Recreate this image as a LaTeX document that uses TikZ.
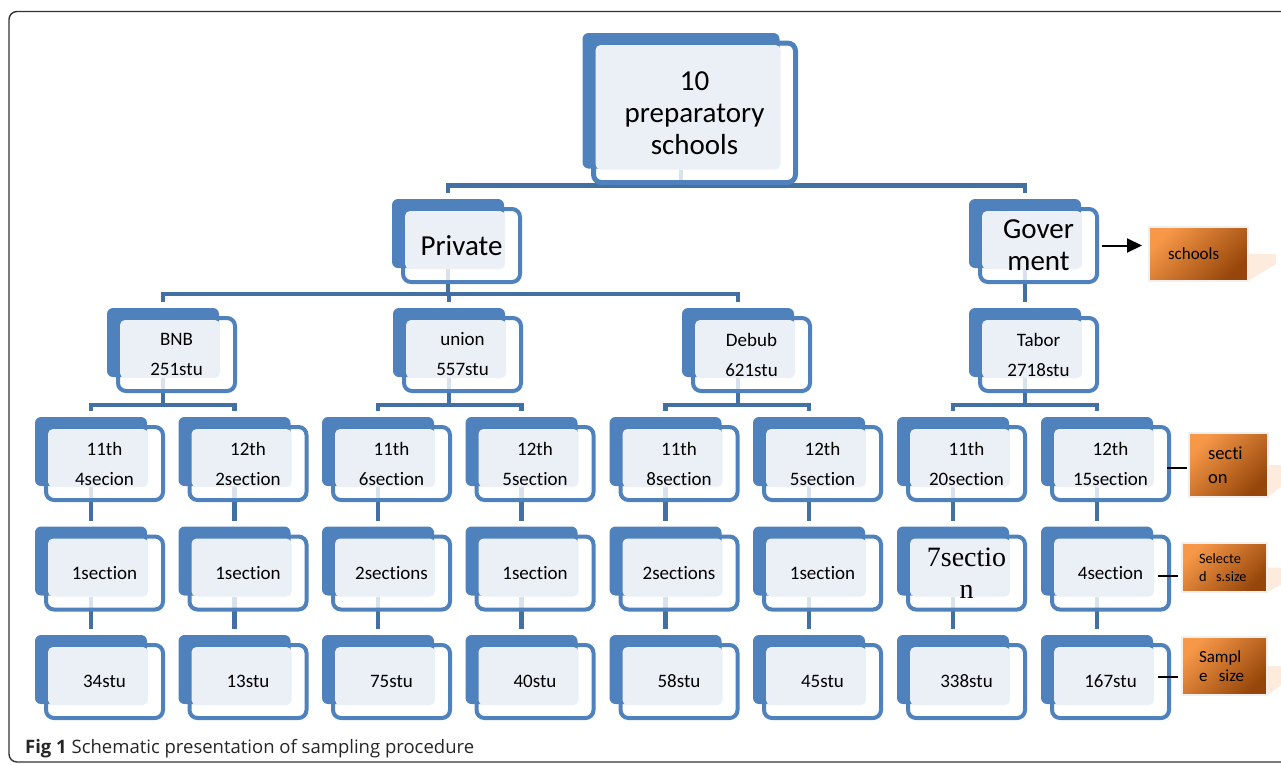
\documentclass[tikz,border=0pt]{standalone}
\usepackage{fontspec}
\setmainfont{Carlito}[Ligatures=NoCommon,Contextuals=NoAlternate]
\newfontfamily\timesfont{Liberation Serif}
\newfontfamily\captionfont{Open Sans}
\usetikzlibrary{calc,arrows.meta}
\definecolor{boxblue}{RGB}{79,129,189}
\definecolor{linkblue}{RGB}{66,112,162}
\definecolor{boxlight}{RGB}{235,240,247}
\definecolor{legtop}{RGB}{247,152,72}
\definecolor{legbot}{RGB}{150,70,10}
\definecolor{legshade}{RGB}{253,236,222}
\pgfdeclarelayer{links}
\pgfdeclarelayer{boxes}
\pgfsetlayers{links,boxes,main}

\begin{document}
\begin{tikzpicture}[x=1pt,y=-1pt,
  unit/.style={rectangle,inner sep=0pt,outer sep=0pt,minimum width=117pt,minimum height=73pt,align=center,font=\fontsize{19}{30}\selectfont},
  big/.style={unit,font=\fontsize{29}{32}\selectfont},
  link/.style={draw=linkblue,line width=4.5pt},
  legend/.style={rectangle,top color=legtop,bottom color=legbot,shading angle=45,draw=black!6,line width=2pt,align=left,inner ysep=0pt,outer sep=0pt},
  tick/.style={draw=black,line width=2pt}]
\useasboundingbox (0,0) rectangle (1281,764);
\draw[black!80,line width=1.4pt,rounded corners=8pt] (9,11.5) rectangle (1300,762);

\node (top) at (694.5,112.75) [big,minimum width=202pt,minimum height=139.5pt] {10\\preparatory\\schools};
\node (priv) at (461.5,245.5) [big] {Private};
\node (gov) at (1038.5,245.5) [big] {Gover\\ment};
\node (bnb) at (176.5,354.5) [unit] {BNB\\251stu};
\node (uni) at (462.5,354.5) [unit] {union\\557stu};
\node (deb) at (751.5,354.5) [unit] {Debub\\621stu};
\node (tab) at (1038.5,354.5) [unit] {Tabor\\2718stu};
\foreach \i/\x/\t in {1/104.5/{11th\\4secion},2/248/{12th\\2section},3/391.5/{11th\\6section},4/535/{12th\\5section},5/679/{11th\\8section},6/822.5/{12th\\5section},7/966.5/{11th\\20section},8/1110.5/{12th\\15section}}
  \node (g\i) at (\x,463.5) [unit] {\t};
\foreach \i/\x/\t in {1/104.5/1section,2/248/1section,3/391.5/2sections,4/535/1section,5/679/2sections,6/822.5/1section,8/1110.5/4section}
  \node (s\i) at (\x,573) [unit] {\t};
\node (s7) at (966.5,573) [unit,font=\timesfont\fontsize{28}{32}\selectfont] {7sectio\\n};
\foreach \i/\x/\t in {1/104.5/34stu,2/248/13stu,3/391.5/75stu,4/535/40stu,5/679/58stu,6/822.5/45stu,7/966.5/338stu,8/1110.5/167stu}
  \node (n\i) at (\x,681.5) [unit] {\t};

\foreach \n/\w in {top/5,priv/4,gov/4,bnb/4,uni/4,deb/4,tab/4,g1/4,g2/4,g3/4,g4/4,g5/4,g6/4,g7/4,g8/4,s1/4,s2/4,s3/4,s4/4,s5/4,s6/4,s7/4,s8/4,n1/4,n2/4,n3/4,n4/4,n5/4,n6/4,n7/4,n8/4} {
  \begin{pgfonlayer}{boxes}
  \draw[boxblue,line width=\w pt,fill=white,fill opacity=0.8,rounded corners=8pt] (\n.north west) rectangle (\n.south east);
  \fill[boxblue,rounded corners=6pt] ($(\n.north west)+(-11,-10)$) rectangle ($(\n.south east)+(-16,-14)$);
  \fill[boxlight,rounded corners=5pt] ($(\n.north west)+(2,2)$) rectangle ($(\n.south east)+(-15,-13)$);
  \end{pgfonlayer}
  \coordinate (\n-in) at ($(\n.north)+(-13.5,-16)$);
  \coordinate (\n-out) at ($(\n.south)+(-13.5,-13)$);
}

\begin{pgfonlayer}{links}
\draw[link] (top-out) -- ++(0,16) -| (priv-in);
\draw[link] (top-out) -- ++(0,16) -| (gov-in);
\foreach \c in {bnb,uni,deb}
  \draw[link] (priv-out) -- ++(0,25) -| (\c-in);
\draw[link] (gov-out) -- (tab-in);
\foreach \p/\a/\b in {bnb/g1/g2,uni/g3/g4,deb/g5/g6,tab/g7/g8} {
  \draw[link] (\p-out) -- ++(0,27) -| (\a-in);
  \draw[link] (\p-out) -- ++(0,27) -| (\b-in);
}
\foreach \i in {1,...,8} {
  \draw[link] (g\i-out) -- (s\i-in);
  \draw[link] (s\i-out) -- (n\i-in);
}
\end{pgfonlayer}

\node (sch) at (1198.5,254) [legend,minimum height=54pt,text width=61pt,inner xsep=19pt,font=\fontsize{17}{20}\selectfont] {schools};
\node (sec) at (1228.5,465) [legend,minimum height=64pt,text width=41pt,inner xsep=19pt,font=\fontsize{18.5}{24}\selectfont] {secti\\on};
\node (sel) at (1224.5,567.5) [legend,minimum height=49pt,text width=51pt,inner xsep=17pt,font=\fontsize{14.3}{18}\selectfont] {Selecte\\d~~s.size};
\node (smp) at (1224.5,666) [legend,minimum height=58pt,text width=51pt,inner xsep=17pt,font=\fontsize{17}{19.5}\selectfont] {Sampl\\e~~size};
\foreach \l in {sch,sec,sel,smp}
  \fill[legshade] (\l.east) -- ++(28,0) -- ++(0,10) -- (\l.south east) -- cycle;

\draw[tick,-{Triangle[length=15pt,width=14pt]}] ([xshift=5pt]gov.east) -- ([xshift=-7pt]gov.east -| sch.west);
\draw[tick] ($(g8.east)+(-2,4.5)$) -- ($(g8.east -| sec.west)+(-2,4.5)$);
\draw[tick] ($(s8.east)+(-11,3)$) -- ($(s8.east -| sel.west)+(-4,3)$);
\draw[tick] ($(n8.east)+(-11,-4.5)$) -- ($(n8.east -| smp.west)+(-4,-4.5)$);

\node (cap) at (25,753) [anchor=base west,inner sep=0pt,font=\captionfont\fontsize{18.5}{21}\selectfont,text=black!85] {\textbf{Fig 1} Schematic presentation of sampling procedure};
\end{tikzpicture}
\end{document}
